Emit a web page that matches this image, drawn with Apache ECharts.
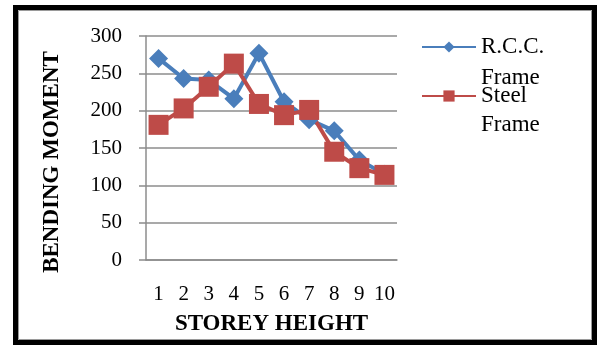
<!DOCTYPE html>
<html>
<head>
<meta charset="utf-8">
<script src="https://cdn.jsdelivr.net/npm/echarts@6/dist/echarts.min.js"></script>
<style>
  html, body { margin: 0; padding: 0; background: #fff; }
  #chart { width: 597px; height: 345px; }
</style>
</head>
<body>
<div id="chart"></div>
<script>
// Storey numbers along the x axis
const storeys = ['1', '2', '3', '4', '5', '6', '7', '8', '9', '10'];
// Bending moment per storey
const rccFrame = [270, 243, 241, 216, 277, 212, 188, 173, 134, 115];
const steelFrame = [181, 203, 232, 263, 209, 194, 201, 145, 123, 114];
const yTicks = { min: 0, max: 300, interval: 50 };
const seriesNames = ['R.C.C.', 'Steel'];

const serif = '"Liberation Serif", "Times New Roman", serif';
const blue = '#4a7ebb';
const red = '#be4b48';

const chart = echarts.init(document.getElementById('chart'), null, { renderer: 'canvas' });

chart.setOption({
  animation: false,
  backgroundColor: '#fff',
  grid: { left: 146, top: 36, width: 251, height: 224, containLabel: false },
  xAxis: {
    type: 'category',
    data: storeys,
    boundaryGap: true,
    name: 'STOREY HEIGHT',
    nameLocation: 'middle',
    nameGap: 53,
    nameTextStyle: { fontFamily: serif, fontWeight: 'bold', fontSize: 23, color: '#000' },
    axisLine: { lineStyle: { color: '#8c8c8c', width: 1.5 } },
    axisTick: { show: false },
    axisLabel: { interval: 0, fontFamily: serif, fontSize: 21, color: '#000', margin: 24 }
  },
  yAxis: {
    type: 'value',
    min: yTicks.min,
    max: yTicks.max,
    interval: yTicks.interval,
    name: 'BENDING MOMENT',
    nameLocation: 'middle',
    nameGap: 82,
    nameTextStyle: { fontFamily: serif, fontWeight: 'bold', fontSize: 23, color: '#000', padding: [0, 28, 0, 0] },
    axisLine: { show: true, lineStyle: { color: '#8c8c8c', width: 1.5 } },
    axisTick: { show: true, length: 7, lineStyle: { color: '#8c8c8c', width: 1.5 } },
    axisLabel: { fontFamily: serif, fontSize: 21, color: '#000', margin: 24 },
    splitLine: { lineStyle: { color: '#8c8c8c', width: 1.5 } }
  },
  legend: {
    orient: 'vertical',
    left: 416,
    top: 30,
    itemWidth: 54,
    itemHeight: 14,
    itemGap: 25,
    textStyle: { fontFamily: serif, fontSize: 23, color: '#000', lineHeight: 24 },
    data: seriesNames
  },
  series: [
    {
      name: seriesNames[0],
      type: 'line',
      data: rccFrame,
      symbol: 'diamond',
      symbolSize: 19,
      showSymbol: true,
      showAllSymbol: true,
      lineStyle: { color: blue, width: 4 },
      itemStyle: { color: blue }
    },
    {
      name: seriesNames[1],
      type: 'line',
      data: steelFrame,
      symbol: 'rect',
      symbolSize: 20,
      showSymbol: true,
      showAllSymbol: true,
      lineStyle: { color: red, width: 4 },
      itemStyle: { color: red }
    }
  ],
  graphic: [
    {
      type: 'text', left: 481, top: 66, silent: true,
      style: { text: 'Frame', font: '23px ' + serif, fill: '#000' }
    },
    {
      type: 'text', left: 481, top: 113, silent: true,
      style: { text: 'Frame', font: '23px ' + serif, fill: '#000' }
    },
    {
      type: 'rect', silent: true,
      shape: { x: 15.5, y: 7.5, width: 579, height: 335 },
      style: { fill: 'none', stroke: '#000', lineWidth: 5 }
    },
    {
      type: 'rect', silent: true,
      shape: { x: 18.5, y: 10.5, width: 573, height: 329 },
      style: { fill: 'none', stroke: '#9a9a9a', lineWidth: 1 }
    }
  ]
});
</script>
</body>
</html>
